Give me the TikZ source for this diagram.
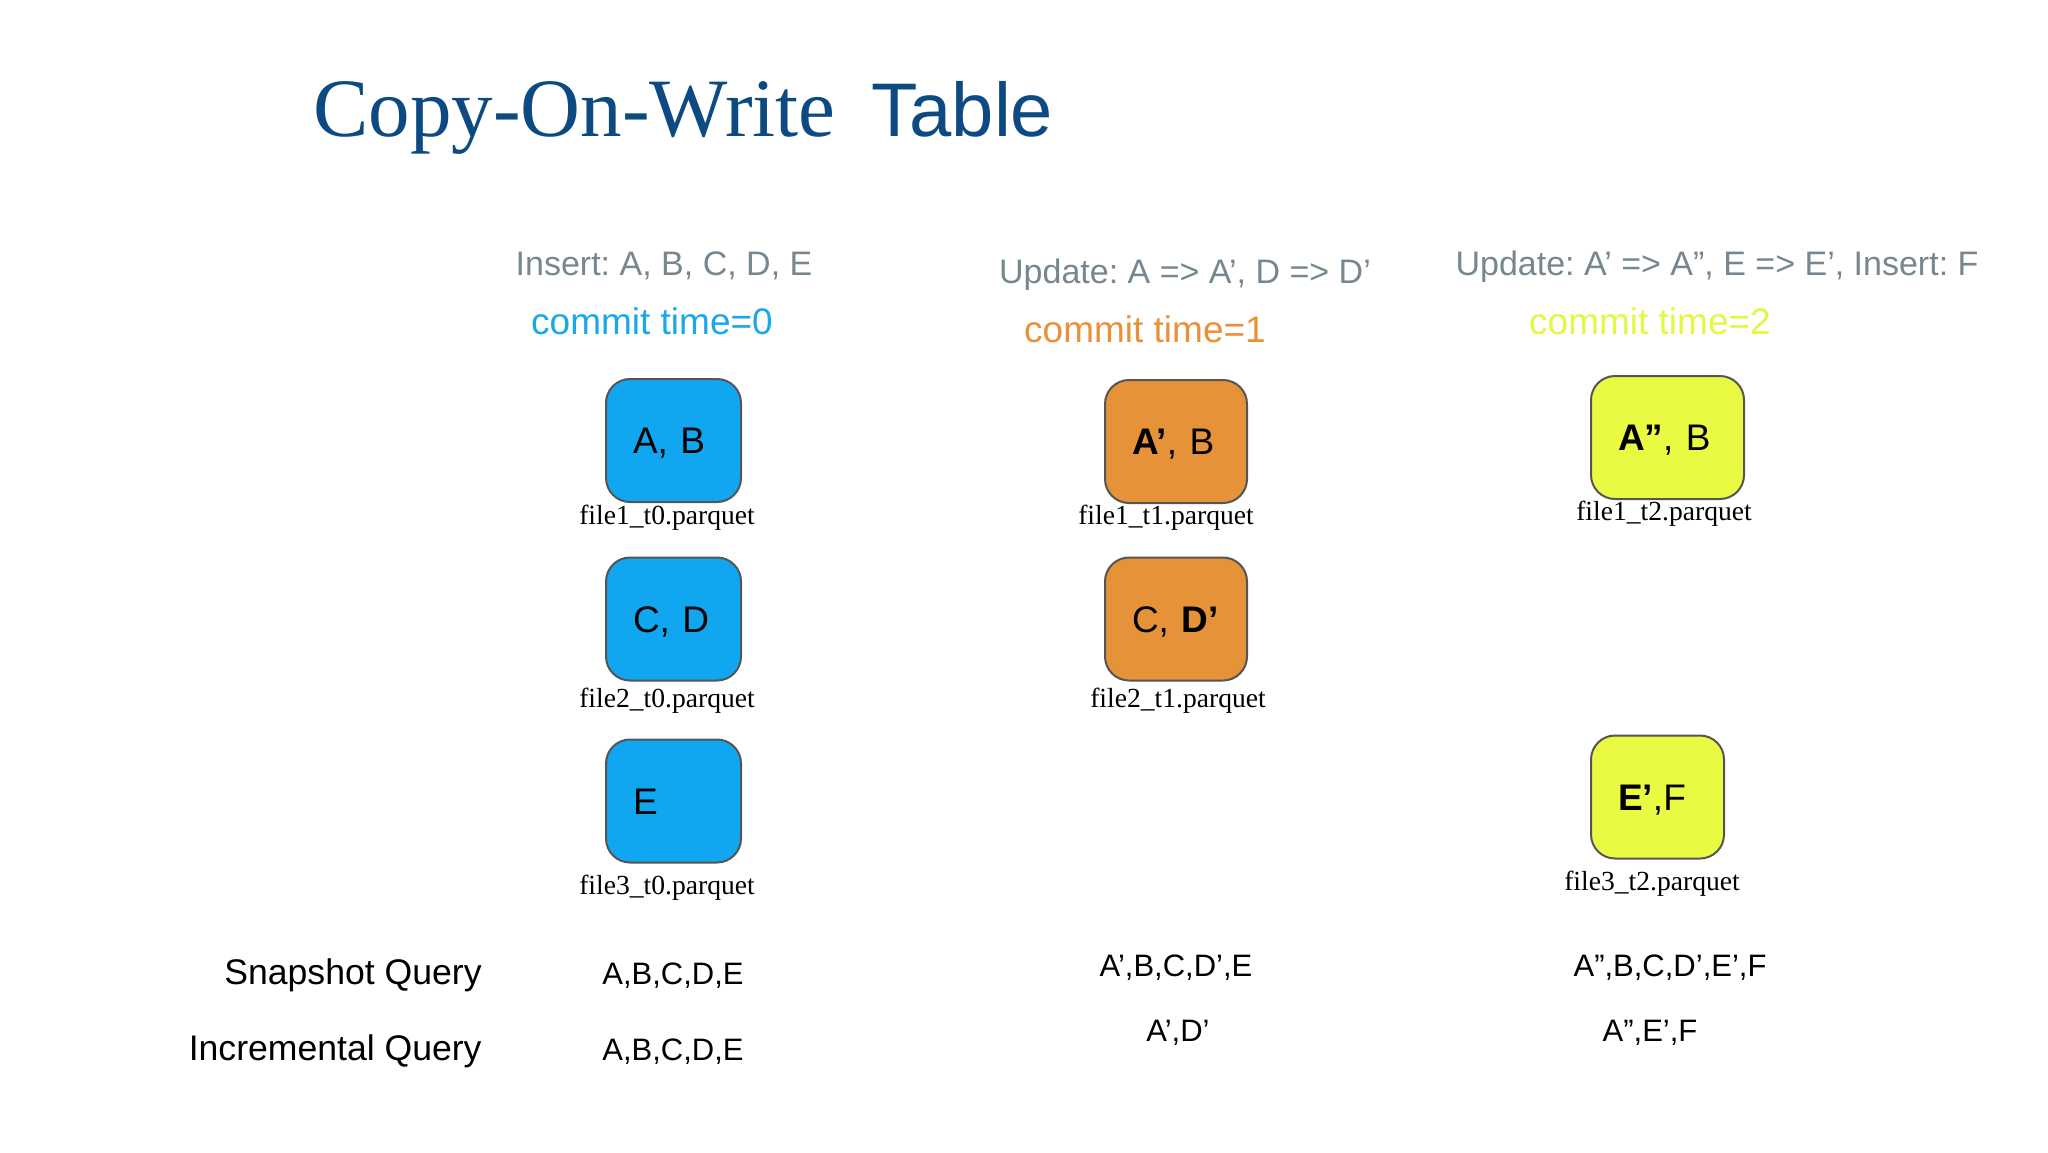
\documentclass[tikz,border=0pt]{standalone}
\usepackage{fontspec}
\setmainfont{Liberation Serif}
\setsansfont{Liberation Sans}
\usepackage{tikz}
\usetikzlibrary{positioning}
\frenchspacing

\definecolor{titleblue}{HTML}{0D4A82}
\definecolor{hdrgray}{HTML}{77878F}
\definecolor{cblue}{HTML}{10A6F0}
\definecolor{corange}{HTML}{E69238}
\definecolor{cyellow}{HTML}{EAFA42}
\definecolor{tblue}{HTML}{19A8E8}
\definecolor{torange}{HTML}{E8913A}
\definecolor{tyellow}{HTML}{E3F743}
\definecolor{boxline}{HTML}{555555}

\begin{document}
\begin{tikzpicture}
  [x=0.5pt, y=-0.5pt,
    every node/.style={inner sep=0pt},
    hdr/.style={anchor=base, font=\sffamily\fontsize{17}{20}\selectfont, text=hdrgray},
    commit/.style={anchor=base, font=\sffamily\fontsize{18.5}{22}\selectfont},
    filebox/.style={draw=boxline, line width=1pt, rounded corners=12pt,
      minimum height=61.5pt, inner xsep=13.5pt, align=left,
      text height=13.2pt, text depth=0pt,
      font=\sffamily\fontsize{18.5}{22}\selectfont},
    fname/.style={anchor=base, font=\rmfamily\fontsize{13.8}{16}\selectfont},
    query/.style={anchor=base, font=\sffamily\fontsize{15.5}{20}\selectfont}]
  \useasboundingbox (0,0) rectangle (2048,1152);

  % title
  \node[anchor=base west, font=\rmfamily\fontsize{41.5}{48}\selectfont, text=titleblue]
    (title) at (313,136) {Copy-On-Write};
  \node[anchor=base west, font=\sffamily\fontsize{38}{44}\selectfont, text=titleblue]
    (titletbl) at (871,136) {Table};

  % operations and commit times
  \node[hdr] (hdr0) at (664,275) {Insert: A, B, C, D, E};
  \node[hdr] (hdr1) at (1185,283) {Update: A => A’, D => D’};
  \node[hdr] (hdr2) at (1717,275) {Update: A’ => A”, E => E’, Insert: F};
  \node[commit, text=tblue] (c0) at (652,334) {commit time=0};
  \node[commit, text=torange] (c1) at (1145,342) {commit time=1};
  \node[commit, text=tyellow] (c2) at (1650,334) {commit time=2};

  % t0
  \node[filebox, fill=cblue, text width=40.5pt] (f1t0) at (673.5,440.5) {A, B};
  \node[filebox, fill=cblue, text width=40.5pt] (f2t0) at (673.5,619) {C, D};
  \node[filebox, fill=cblue, text width=40.5pt] (f3t0) at (673.5,801) {E};
  \node[fname] (n1t0) at (667,524) {file1\_t0.parquet};
  \node[fname] (n2t0) at (667,707) {file2\_t0.parquet};
  \node[fname] (n3t0) at (667,894) {file3\_t0.parquet};

  % t1
  \node[filebox, fill=corange, text width=44pt] (f1t1) at (1176,441.5) {\textbf{A’}, B};
  \node[filebox, fill=corange, text width=44pt] (f2t1) at (1176,619) {C, \textbf{D’}};
  \node[fname] (n1t1) at (1166,524) {file1\_t1.parquet};
  \node[fname] (n2t1) at (1178,707) {file2\_t1.parquet};

  % t2
  \node[filebox, fill=cyellow, text width=49.5pt] (f1t2) at (1667.5,437.5) {\textbf{A”}, B};
  \node[filebox, fill=cyellow, text width=39.5pt] (f3t2) at (1657.5,797) {\textbf{E’},F};
  \node[fname] (n1t2) at (1664,520) {file1\_t2.parquet};
  \node[fname] (n3t2) at (1652,890) {file3\_t2.parquet};

  % queries
  \node[query, anchor=base east, font=\sffamily\fontsize{17.8}{22}\selectfont]
    (snap) at (482,984) {Snapshot Query};
  \node[query, anchor=base east, font=\sffamily\fontsize{17.8}{22}\selectfont]
    (incr) at (482,1060) {Incremental Query};
  \node[query] (s0) at (673,984) {A,B,C,D,E};
  \node[query] (i0) at (673,1060) {A,B,C,D,E};
  \node[query] (s1) at (1176,976) {A’,B,C,D’,E};
  \node[query] (i1) at (1178,1041) {A’,D’};
  \node[query] (s2) at (1670,976) {A”,B,C,D’,E’,F};
  \node[query] (i2) at (1650,1041) {A”,E’,F};
\end{tikzpicture}
\end{document}
